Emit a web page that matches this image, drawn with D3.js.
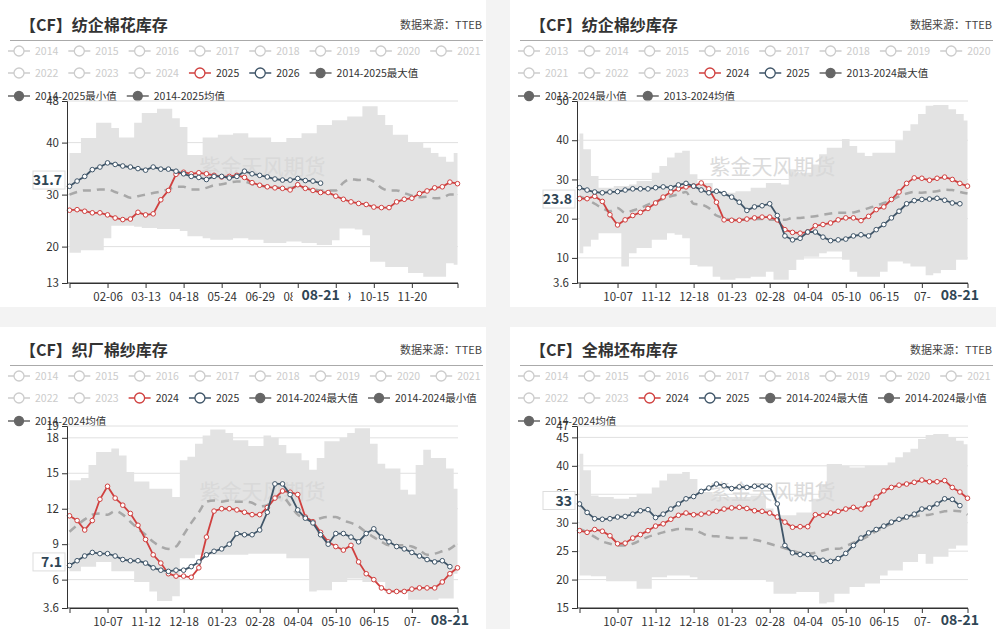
<!DOCTYPE html>
<html><head><meta charset="utf-8">
<script src="https://cdn.jsdelivr.net/npm/d3@7"></script>
<style>body{margin:0;background:#f3f3f3;}svg{display:block;font-family:"Noto Sans CJK SC","Noto Sans",sans-serif;}</style>
</head><body><svg id="c" width="996" height="629"></svg>
<script>
// ---------- DATA ----------
// Panel 1 纺企棉花库存 (weekly, starts 01-02)
const p1Ticks = [[5,"02-06"],[10,"03-13"],[15,"04-18"],[20,"05-24"],[25,"06-29"],[30,"08-03"],[35,"09-09"],[40,"10-15"],[45,"11-20"]];
const p1Max = [38,38,40.9,40.9,43.8,43.8,42.8,41,41,43.8,45.7,45.7,46.5,46.5,44.7,43,37.6,37.6,41,41,41.5,41.5,41.8,41.8,41,41,41,40,40,40.9,40.9,41.8,41.8,43.4,43.4,44.3,44.3,45,45,47,47,45.3,43.4,41.5,41.5,40,40,39,38,37.3,36.3,38];
const p1Min = [18.8,18.8,19.3,19.3,19.3,21.6,24,24,24,23.8,23.6,23.6,23.4,23.4,23.4,23,22,22,21.6,21.3,21.3,21.3,21.6,21.6,21.3,21.3,20.7,20.7,20.7,21,21,20.7,20.7,20.3,20.3,21.2,23.5,23.5,23.3,22.2,17.1,17.1,16.1,16.1,16.1,14.9,14.9,14.2,14.2,14.2,16.8,16.5];
const p1Avg = [30,30.5,30.8,30.8,31,31,30.5,30,29.4,29.7,30,30.3,30.6,31,31.5,31.5,31,31,31.3,31.8,32,32.3,32.5,32.5,32,31.8,31.5,31.5,31.2,31.3,31.5,31.3,31,30.8,30.8,30.8,32.3,33,32.8,33,32.5,31.3,30.8,30.8,30.3,29.8,29.5,29.6,29.3,29.4,30,30];
const p1Red = [27,27.1,26.8,26.5,26.5,26.1,25.5,25.2,25.3,26.6,26.1,26.3,29,30.8,33.9,34.3,34,34.2,34,33.7,33.4,33.5,33.7,33.3,32.3,31.8,31.5,31.3,31.2,30.9,31.9,31.2,30.8,30.4,30.4,29.7,29.1,28.6,28.3,28.1,27.6,27.5,27.5,28.6,29.1,29.3,30.2,30.7,31.3,31.5,32.4,32.1];
const p1Blue = [31.6,32.6,33.5,34.8,35.3,36.1,35.8,35.5,35.3,35,34.7,35.3,34.9,34.9,34.5,34,33.5,33.3,32.9,33.5,33.5,33.2,33.5,34.5,34,33.7,33.4,33,32.8,32.8,33.1,32.7,32.6,32.2];

// Panel 2 纺企棉纱库存 (weekly, starts 09-02)
const p2Ticks = [[5,"10-07"],[10,"11-12"],[15,"12-18"],[20,"01-23"],[25,"02-28"],[30,"04-04"],[35,"05-10"],[40,"06-15"],[45,"07-"]];
const p2Max = [41.7,37.7,30.9,27.9,27.9,28.3,28.3,28.7,29.6,29.6,31.7,33.4,35.6,36.8,37.3,31.3,29.1,29.1,27,26.6,26.6,27,27,27.9,27.9,29.1,29.1,28.7,32.6,31.7,31.7,33.8,36.4,38.1,38.1,40.3,38.5,36.8,36,36.8,36.8,36.8,39.8,42.4,44.1,46.7,48.8,49,49,47.9,46.7,45];
const p2Min = [11.2,12.9,14.6,16.3,16.3,16.3,7.8,11.2,12.5,12.5,14.6,14.6,16.3,15.9,15,8.2,7.8,7.8,5.2,4.4,4.4,4.8,4.8,5.2,5.2,6.5,4.4,4.4,6.9,9.5,10.3,10.3,11.2,11.6,11.6,9.5,6.5,5.2,5.2,5.2,6.5,9.1,9.1,8.6,7.8,7.8,5.6,6.1,6.9,6.9,9.5,9.5];
const p2Avg = [25.7,24.9,23.8,22.7,21.9,22.7,21.5,22.1,22.7,23.6,24.4,25,25.7,26.2,26.8,23.8,23.6,22.7,20.8,20.2,19.7,19.7,19.7,19.9,19.9,19.7,19.7,19.7,20.2,20.2,20.4,20.6,21,21.3,21.5,21.5,21.6,22.1,22.7,23.3,24,24.7,25.7,26.4,26.8,26.6,26.8,27,27.4,27.3,26.8,26.4];
const p2Red = [25.1,25.1,25.7,24.4,21,18.4,19.7,20.8,21.6,22.6,24,25.5,26.8,27.6,28.1,28.3,29.1,27.6,24.2,19.7,19.6,19.6,19.9,20.2,20.4,20.4,19.7,17.2,16.5,16.3,16.6,18.2,18.5,18.9,19.7,20.2,20.2,19.5,20.6,22.3,23,24.9,26.8,29,30.4,30.3,29.8,30.3,30.6,30,29,28.3];
const p2Blue = [27.9,27.3,26.8,26.6,26.8,26.9,27.3,27.6,27.6,27.6,27.9,28.1,27.9,28.6,29,28.3,27.3,26.6,27,26.4,25.5,24.2,22.1,23,23.3,23.8,20.8,15.6,14.6,15,16.6,16.6,15.3,14.4,14.6,14.8,15.6,15.9,15.6,17.2,18.5,20.2,21.9,23.8,24.6,24.9,25,25.2,24.7,24,23.8];

// Panel 3 织厂棉纱库存
const p3Ticks = p2Ticks;
const p3Max = [14.4,14.4,14.6,15.7,16.8,16.8,17.1,16.5,15.1,14.3,14.3,13.7,13.7,13.7,13,16.1,16.4,17.5,18.2,18.7,18.7,18.4,17.8,17.8,17.3,17.3,18.2,18,17.4,16.7,16.7,16.1,15.3,16.3,17.7,17.7,18,18.4,18.8,18.8,17.5,15.8,15.4,15.4,13.6,13.2,15.7,17,16.3,16.3,15.4,13.7];
const p3Min = [6.7,6.7,7.1,7.1,7.5,7.5,6.7,6.7,6.7,5.8,5.8,5,4.2,4.2,4.6,7.8,7.8,8.1,8.1,8.1,8.1,8.1,8.1,8.1,8.2,8.2,8.2,8.2,8.2,7.8,7.8,7.8,5,5.1,5.1,5.8,5.8,6.1,6.1,5.8,5.8,5.8,4.9,4.9,4.9,4.3,4.3,4.3,4.3,4.4,4.4,6.5];
const p3Avg = [10.05,10.6,11.1,11.5,11.6,11.5,11.8,11.5,10.9,10.3,9.8,9.2,8.8,8.6,8.8,9.8,10.8,11.7,12.6,12.7,12.6,12.7,12.6,12.6,12.5,12.2,12.3,12.9,13,12.3,11.5,11.2,11,11.2,11.3,11.3,11,10.8,10.5,10,9.6,9.2,8.9,8.9,8.9,8.8,8.5,8.1,8.2,8.4,8.6,9.1];
const p3Red = [11.4,11,10.2,11,12.8,13.9,12.9,12.3,11.6,10.6,9.4,8.1,7.4,6.5,6.3,6.3,6.2,7,9.6,11.8,12,12,11.9,11.7,11.5,11.5,12.1,12.9,13.5,13.4,13.2,11.3,10.9,10,9.2,8.8,8.5,8.9,7.5,6.5,6,5.3,5,5,5,5.2,5.3,5.3,5.3,5.8,6.5,7];
const p3Blue = [7.2,7.6,8,8.3,8.2,8.2,8,7.7,7.6,7.6,7.4,7,6.8,6.7,6.8,6.8,7.1,7.5,8.1,8.4,8.6,9,9.9,9.8,9.8,10.2,11.7,14.1,14.1,13.2,11.9,11.2,10.8,9.8,9,9.9,9.9,9.6,9.2,9.9,10.3,9.6,9.2,8.8,8.6,8.3,8,7.7,7.5,7.6,7.1];

// Panel 4 全棉坯布库存
const p4Ticks = p2Ticks;
const p4Max = [42.1,39.2,34.8,34.5,34.5,34.2,34.2,34.5,35.1,35.1,36.2,37.4,38.6,38.6,38.9,37.7,35.4,35.4,34.5,34.5,34.5,34.5,34.5,34.8,34.8,32.5,31.3,31.3,31.3,31.8,31.8,34.2,36.8,40.3,40.3,40,39.7,39.7,40,40,40,40.6,41.5,42.4,43,44.7,45.4,45.6,45.6,45,44.4,43.8];
const p4Min = [20.7,20.7,20.6,20.6,19.7,19.7,19.7,19.7,18.4,18.4,20.4,20.4,20.7,20.7,20.7,20.4,20.1,20.1,20.1,20.1,20.1,20.1,20.1,20.1,20.1,19.6,17.5,17.5,17.5,17.8,17.8,17.8,15.8,16,17.5,17.5,18.7,18.7,19.3,19.3,20.7,21.6,21.6,23.1,23.1,24.5,22.8,24,24,25.4,26,26];
const p4Avg = [28.9,28.3,27.5,26.7,26.3,26,26,26.3,26.9,27.5,27.9,28.3,28.6,28.9,28.9,28.8,28.2,27.7,27.6,27.5,27.3,27.3,27.3,27,26.7,26.3,25.9,25.5,25.1,24.7,24.5,24.7,25.1,25.4,25.4,25.9,26.5,27,27.7,28.5,29.2,29.8,30.4,30.8,31.1,31.3,31.4,31.7,32,32.1,32,31.4];
const p4Red = [28.6,28.3,28.8,28.5,27.7,26.3,26.4,27.3,27.9,28.6,29.4,29.8,30.6,31.3,31.7,31.4,31.5,31.7,32,32.4,32.6,32.7,32.5,32.1,32,31.7,31,30.1,29.2,29.3,29.3,31.4,31.3,31.7,32,32.4,32.7,32.4,33.3,34.5,35.6,36.2,36.6,36.8,37.1,37.5,37.2,37.2,37.4,36.2,35.4,34.3];
const p4Blue = [33.3,31.8,30.7,30.6,30.7,31,31.1,31.5,32.1,32.3,30.9,31.5,32.4,33.3,34.2,34.6,35.5,36.1,36.8,36.5,36,36.3,36.2,36.4,36.4,36.4,33.3,26,24.7,24.4,24.4,23.8,23.4,23.2,23.7,24.6,26,27.3,28.2,28.8,29.4,30.1,30.6,31,31.5,32.4,32.6,33.3,34.2,34.1,33];

const panels = [
 {ox:0, oy:0, title:"【CF】纺企棉花库存", years:[2014,2015,2016,2017,2018,2019,2020,2021,2022,2023,2024], red:"2025", blue:"2026", span:"2014-2025",
  yDomain:[13,48], yTicks:[13,20,30,40,48], ticks:p1Ticks, max:p1Max, min:p1Min, avg:p1Avg, r:p1Red, b:p1Blue, ptrIdx:33, ptrLabel:"08-21", yPtr:32.8, yPtrLabel:"31.7"},
 {ox:510, oy:0, title:"【CF】纺企棉纱库存", years:[2013,2014,2015,2016,2017,2018,2019,2020,2021,2022,2023], red:"2024", blue:"2025", span:"2013-2024",
  yDomain:[3.6,50], yTicks:[3.6,10,20,30,40,50], ticks:p2Ticks, max:p2Max, min:p2Min, avg:p2Avg, r:p2Red, b:p2Blue, ptrIdx:50, ptrLabel:"08-21", yPtr:25, yPtrLabel:"23.8"},
 {ox:0, oy:325, title:"【CF】织厂棉纱库存", years:[2014,2015,2016,2017,2018,2019,2020,2021,2022,2023], red:"2024", blue:"2025", span:"2014-2024",
  yDomain:[3.6,19], yTicks:[3.6,6,9,12,15,18,19], ticks:p3Ticks, max:p3Max, min:p3Min, avg:p3Avg, r:p3Red, b:p3Blue, ptrIdx:50, ptrLabel:"08-21", yPtr:7.5, yPtrLabel:"7.1"},
 {ox:510, oy:325, title:"【CF】全棉坯布库存", years:[2014,2015,2016,2017,2018,2019,2020,2021,2022,2023], red:"2024", blue:"2025", span:"2014-2024",
  yDomain:[15,47], yTicks:[15,20,25,30,35,40,45,47], ticks:p4Ticks, max:p4Max, min:p4Min, avg:p4Avg, r:p4Red, b:p4Blue, ptrIdx:50, ptrLabel:"08-21", yPtr:33.9, yPtrLabel:"33"}
];

// ---------- DRAW ----------
const RED="#d0403f", BLUE="#3f5568", GREY="#666", BAND="#e3e3e3";
const svg=d3.select("#c");
panels.forEach(p=>{
  const g=svg.append("g").attr("transform",`translate(${p.ox},${p.oy})`);
  g.append("rect").attr("x",0).attr("y",p.oy?2:0).attr("width",486).attr("height",p.oy?302:307).attr("fill","#fff");
  g.append("text").attr("x",20).attr("y",31).attr("font-size",16).attr("font-weight","bold").attr("fill","#333").text(p.title);
  g.append("text").attr("x",482).attr("y",29).attr("text-anchor","end").attr("font-size",11).attr("fill","#444").text("数据来源：TTEB");
  g.append("line").attr("x1",10).attr("x2",483).attr("y1",40.5).attr("y2",40.5).attr("stroke","#aaa");
  // legend
  const items=p.years.map(y=>({t:String(y),c:"#ccc",filled:false}))
    .concat([{t:p.red,c:RED,filled:false},{t:p.blue,c:BLUE,filled:false},
      {t:p.span+"最大值",c:GREY,filled:true},{t:p.span+"最小值",c:GREY,filled:true},{t:p.span+"均值",c:GREY,filled:true}]);
  const FS=10.5;
  let lx=8, row=0; const rowsY=[51,73,96];
  items.forEach(it=>{
    const tmp=g.append("text").attr("font-size",FS).text(it.t);
    const w=tmp.node().getComputedTextLength(); tmp.remove();
    if(lx+27+w>486){row++;lx=8;}
    const y=rowsY[row];
    const ig=g.append("g");
    ig.append("line").attr("x1",lx).attr("x2",lx+22).attr("y1",y).attr("y2",y).attr("stroke",it.c).attr("stroke-width",1.5);
    ig.append("circle").attr("cx",lx+11).attr("cy",y).attr("r",it.filled?4.5:5).attr("fill",it.filled?it.c:"#fff").attr("stroke",it.c).attr("stroke-width",1.3);
    ig.append("text").attr("x",lx+27).attr("y",y+4).attr("font-size",FS).attr("fill",it.c=="#ccc"?"#ccc":"#333").text(it.t);
    lx+=27+w+10;
  });
  // scales
  const x=d3.scaleLinear().domain([0,51]).range([69.5,457.5]);
  const y=d3.scaleLinear().domain(p.yDomain).range([283,101]);
  const L=67,R=458;
  p.yTicks.forEach(t=>{ if(t!==p.yDomain[0]) g.append("line").attr("x1",L).attr("x2",R).attr("y1",y(t)).attr("y2",y(t)).attr("stroke","#e0e0e0");});
  const idx=d3.range(p.max.length);
  g.append("path").datum(idx).attr("fill",BAND)
    .attr("d",d3.area().curve(d3.curveStep).x(i=>x(i)).y0(i=>y(p.min[i])).y1(i=>y(p.max[i])));
  g.append("text").attr("x",(L+R)/2).attr("y",y(p.yDomain[0]+(p.yDomain[1]-p.yDomain[0])*0.6)).attr("text-anchor","middle")
    .attr("font-size",21).attr("fill","#d8d8d8").attr("opacity",0.9).text("紫金天风期货");
  g.append("path").datum(p.avg).attr("fill","none").attr("stroke","#a8a8a8").attr("stroke-width",2.5).attr("stroke-dasharray","8,6")
    .attr("d",d3.line().curve(d3.curveMonotoneX).x((d,i)=>x(i)).y(d=>y(d)));
  [[p.r,RED],[p.b,BLUE]].forEach(([arr,c])=>{
    g.append("path").datum(arr).attr("fill","none").attr("stroke",c).attr("stroke-width",1.8)
      .attr("d",d3.line().x((d,i)=>x(i)).y(d=>y(d)));
    g.selectAll(null).data(arr).enter().append("circle").attr("cx",(d,i)=>x(i)).attr("cy",d=>y(d)).attr("r",2.3)
      .attr("fill","#fff").attr("stroke",c).attr("stroke-width",1);
  });
  const ya=g.append("g").attr("transform",`translate(${L},0)`)
    .call(d3.axisLeft(y).tickValues(p.yTicks).tickSize(5).tickFormat(d=>String(d)));
  const xa=g.append("g").attr("transform","translate(0,283)")
    .call(d3.axisBottom(x).tickValues(p.ticks.map(t=>t[0])).tickSize(5).tickFormat(i=>p.ticks.find(t=>t[0]===i)[1]));
  g.append("line").attr("x1",L).attr("x2",R).attr("y1",283).attr("y2",283).attr("stroke","#333");
  [ya,xa].forEach(a=>{a.select(".domain").attr("stroke","#333");a.selectAll(".tick line").attr("stroke","#333");
    a.selectAll("text").attr("font-size",11.5).attr("fill","#333").attr("font-family","Noto Sans CJK SC");});
  xa.selectAll("text").attr("dy","0.9em");
  const px=x(p.ptrIdx);
  g.append("rect").attr("x",px-28).attr("y",288).attr("width",56).attr("height",16).attr("fill","#fff");
  g.append("text").attr("x",px).attr("y",300).attr("text-anchor","middle").attr("font-size",14).attr("font-weight","bold").attr("fill","#2f4554").text(p.ptrLabel);
  const py=y(p.yPtr);
  g.append("rect").attr("x",33).attr("y",py-9).attr("width",32).attr("height",18).attr("fill","#fff").attr("stroke","#ddd");
  g.append("text").attr("x",62).attr("y",py+5).attr("text-anchor","end").attr("font-size",14).attr("font-weight","bold").attr("fill","#2f4554").text(p.yPtrLabel);
});
</script></body></html>
